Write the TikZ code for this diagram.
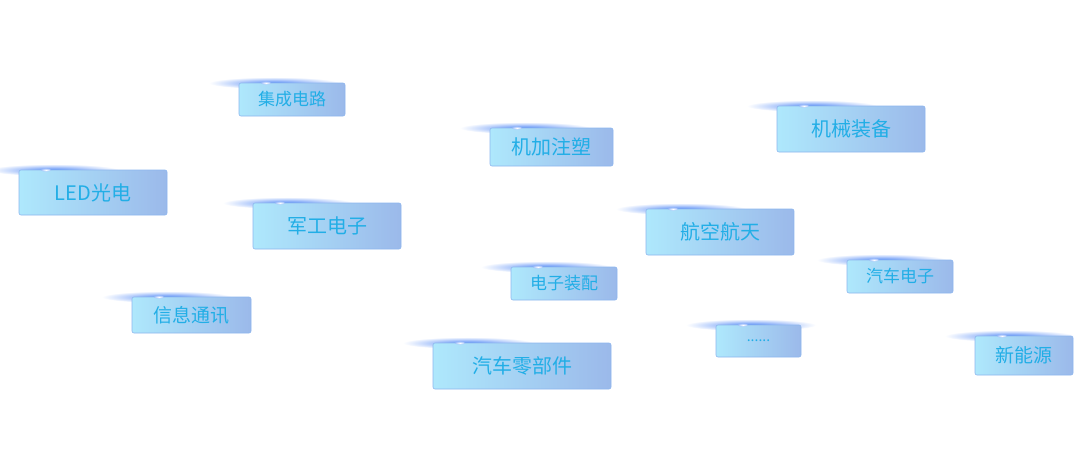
\documentclass[tikz,border=0pt]{standalone}
\usepackage{fontspec}
\newfontfamily\cjk{Noto Sans CJK SC}
\definecolor{bl}{HTML}{AEE8FC}
\definecolor{br}{HTML}{9BB9EA}
\definecolor{bd}{HTML}{8DB6EE}
\definecolor{tx}{HTML}{22AEE6}
\definecolor{gl}{HTML}{3F7CF5}
\tikzset{box/.style={draw=bd,line width=0.6pt,rounded corners=2pt,left color=bl,right color=br,inner sep=0pt}}
\newcommand{\mytag}[7]{%
  \shade[inner color=gl!90,outer color=white] ({#2+35},{#3}) ellipse (65 and 6);
  \path[box] (#2,#3) rectangle (#4,#5);
  \shade[inner color=white,outer color=gl!50] ({#2+27},{#3}) ellipse (5 and 1.6);
  \node[text=tx,font=\cjk\fontsize{#7}{#7}\selectfont] (#1) at ({(#2+#4)/2},{(#3+#5)/2}) {#6};}
\begin{document}
\begin{tikzpicture}[x=1pt,y=-1pt]
\useasboundingbox (0,0) rectangle (1074,450);
\fill[white] (0,0) rectangle (1074,450);
\mytag{a}{239}{83}{345}{116}{集成电路}{17}
\mytag{b}{490}{128}{613}{166}{机加注塑}{20}
\mytag{c}{777}{106}{925}{152}{机械装备}{20}
\mytag{d}{19}{170}{167}{215}{LED光电}{20}
\mytag{e}{253}{203}{401}{249}{军工电子}{20}
\mytag{f}{646}{209}{794}{255}{航空航天}{20}
\mytag{g}{511}{267}{617}{300}{电子装配}{17}
\mytag{h}{847}{260}{953}{293}{汽车电子}{17}
\mytag{i}{132}{297}{251}{333}{信息通讯}{19}
\mytag{j}{716}{325}{801}{357}{......}{14}
\mytag{k}{433}{343}{611}{389}{汽车零部件}{20}
\mytag{l}{975}{336}{1073}{375}{新能源}{19}
\end{tikzpicture}
\end{document}
